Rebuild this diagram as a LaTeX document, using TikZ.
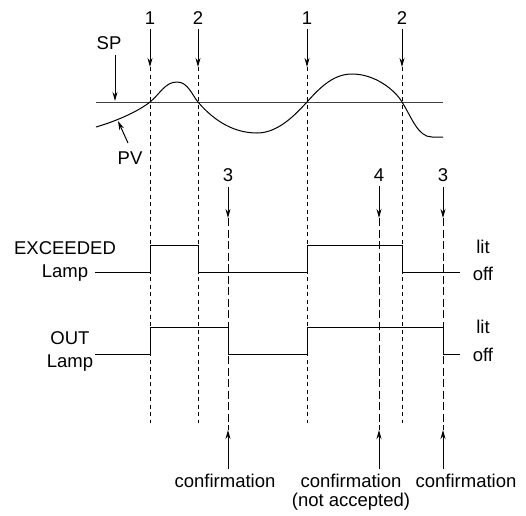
\documentclass[tikz,border=0pt]{standalone}
\usepackage{fontspec}
\setmainfont{Liberation Sans}
\usepackage{tikz}
\usetikzlibrary{arrows.meta}

\begin{document}
\begin{tikzpicture}[x=1pt, y=-1pt, line width=1pt,
    txt/.style={font=\fontsize{18.5}{23}\selectfont, inner sep=1pt, outer sep=4pt},
    lamp/.style={txt, align=center},
    pointer/.style={-{Stealth[length=9pt,width=5pt]}},
    edge1/.style={dash pattern=on 4pt off 3.5pt},
    edge2/.style={dash pattern=on 8pt off 3.5pt},
    signal/.style={line join=miter}]

    \useasboundingbox (0,0) rectangle (526,515);

    % event numbers at the top
    \node [txt] (n1a) at (150,18) {1};
    \node [txt] (n2a) at (198,18) {2};
    \node [txt] (n1b) at (307,18) {1};
    \node [txt] (n2b) at (402,18) {2};
    \node [txt] (n3a) at (228,175) {3};
    \node [txt] (n4)  at (379,175) {4};
    \node [txt] (n3b) at (443,175) {3};

    \coordinate (t1a) at (150,67);  \coordinate (b1a) at (150,423);
    \coordinate (t2a) at (198,67);  \coordinate (b2a) at (198,423);
    \coordinate (t1b) at (307,67);  \coordinate (b1b) at (307,423);
    \coordinate (t2b) at (402,67);  \coordinate (b2b) at (402,423);
    \coordinate (t3a) at (228,218); \coordinate (b3a) at (228,430);
    \coordinate (t4)  at (379,218); \coordinate (b4)  at (379,430);
    \coordinate (t3b) at (443,218); \coordinate (b3b) at (443,430);

    \draw [pointer] (n1a) -- (t1a);
    \draw [pointer] (n2a) -- (t2a);
    \draw [pointer] (n1b) -- (t1b);
    \draw [pointer] (n2b) -- (t2b);
    \draw [pointer] (n3a) -- (t3a);
    \draw [pointer] (n4)  -- (t4);
    \draw [pointer] (n3b) -- (t3b);

    \draw [edge1] (t1a) -- (b1a);
    \draw [edge1] (t2a) -- (b2a);
    \draw [edge1] (t1b) -- (b1b);
    \draw [edge1] (t2b) -- (b2b);
    \draw [edge2] (t3a) -- (b3a);
    \draw [edge2] (t4)  -- (b4);
    \draw [edge2] (t3b) -- (b3b);

    % set point and process value
    \coordinate (spl) at (96,102);
    \coordinate (spr) at (443,102);
    \draw [black!75] (spl) -- (spr);
    \node [txt] (sp) at (109,43) {SP};
    \coordinate (spt) at (115,101);
    \draw [pointer] (sp.south -| spt) -- (spt);

    \draw (96,127) .. controls (120,120) and (140,110) .. (150,102)
        .. controls (160,94) and (165,82) .. (177,82)
        .. controls (188,82) and (192,95) .. (198,102)
        .. controls (215,122) and (235,133) .. (257,133)
        .. controls (278,133) and (295,115) .. (307,102)
        .. controls (322,85) and (335,74) .. (352,74)
        .. controls (375,74) and (395,90) .. (402,102)
        .. controls (412,118) and (418,137) .. (432,137)
        -- (443,137);

    \node [txt] (pv) at (130,158) {PV};
    \coordinate (pvt) at (118,121);
    \coordinate (pvs) at (128,143);
    \draw [pointer] (pvs) -- (pvt);

    % lamps
    \node [lamp] (exc) at (65,261) {EXCEEDED\\Lamp};
    \node [lamp] (out) at (70,351) {OUT\\Lamp};

    \draw [signal] (95,272) -- (150,272) -- (150,245) -- (198,245) -- (198,272)
        -- (307,272) -- (307,245) -- (402,245) -- (402,272) -- (460,272);
    \draw [signal] (95,354) -- (150,354) -- (150,327) -- (228,327) -- (228,354)
        -- (307,354) -- (307,327) -- (443,327) -- (443,354) -- (460,354);

    \node [txt] (lit1) at (483,247) {lit};
    \node [txt] (off1) at (483,274) {off};
    \node [txt] (lit2) at (483,327) {lit};
    \node [txt] (off2) at (483,355) {off};

    % confirmations
    \node [txt, anchor=north] (c1) at (225,469) {confirmation};
    \node [txt, anchor=north, align=center, font=\fontsize{18.5}{19}\selectfont]
        (c2) at (351,469) {confirmation\\(not accepted)};
    \node [txt, anchor=north] (c3) at (466,469) {confirmation};

    \draw [pointer] (c1.north -| b3a) -- (b3a);
    \draw [pointer] (c2.north -| b4) -- (b4);
    \draw [pointer] (c3.north -| b3b) -- (b3b);
\end{tikzpicture}
\end{document}
